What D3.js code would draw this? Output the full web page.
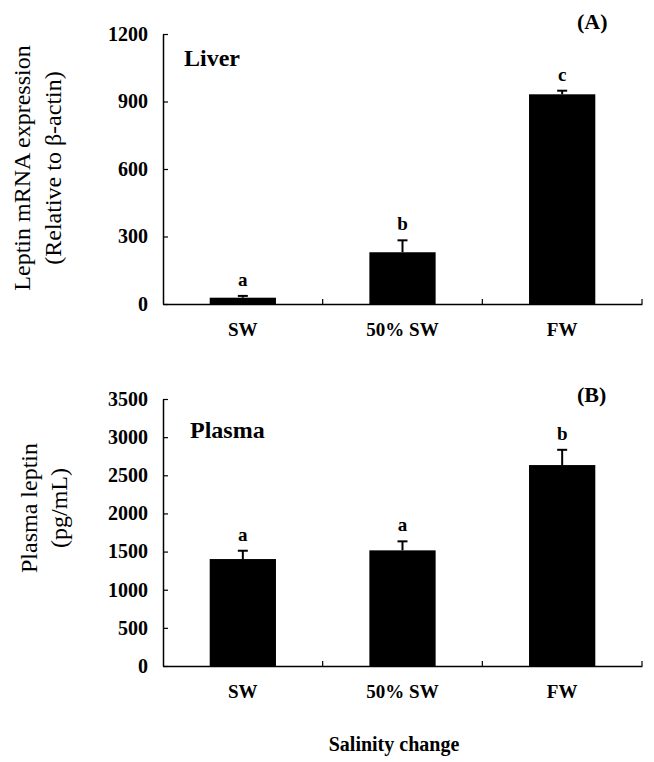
<!DOCTYPE html>
<html>
<head>
<meta charset="utf-8">
<script src="https://cdn.jsdelivr.net/npm/d3@7"></script>
<style>
  html, body { margin: 0; padding: 0; background: #fff; }
  svg { display: block; }
  text { font-family: "Liberation Serif", "Times New Roman", serif; fill: #000; }
</style>
</head>
<body>
<svg id="chart" width="654" height="762"></svg>
<script>
const categories = ["SW", "50% SW", "FW"];
const liverMean = [28, 230, 932];
const liverErr = [8, 53, 16];
const liverLetters = ["a", "b", "c"];
const liverTicks = [0, 300, 600, 900, 1200];
const plasmaMean = [1402, 1516, 2634];
const plasmaErr = [109, 118, 200];
const plasmaLetters = ["a", "a", "b"];
const plasmaTicks = [0, 500, 1000, 1500, 2000, 2500, 3000, 3500];

const svg = d3.select("#chart");
const left = 163, right = 642;

const x = d3.scaleBand().domain(categories).range([left, right])
  .paddingInner(0.585).paddingOuter(0.2925);

function panel(opts) {
  const y = d3.scaleLinear().domain([0, opts.max]).range([opts.bottom, opts.top]);
  const g = svg.append("g");

  // bars
  g.selectAll("rect.bar").data(opts.mean).join("rect")
    .attr("class", "bar")
    .attr("x", (d, i) => x(categories[i]))
    .attr("width", x.bandwidth())
    .attr("y", d => y(d))
    .attr("height", d => opts.bottom - y(d))
    .attr("fill", "#000");

  // error bars
  const cx = i => x(categories[i]) + x.bandwidth() / 2;
  g.selectAll("line.stem").data(opts.mean).join("line")
    .attr("x1", (d, i) => cx(i)).attr("x2", (d, i) => cx(i))
    .attr("y1", d => y(d)).attr("y2", (d, i) => y(d + opts.err[i]))
    .attr("stroke", "#000").attr("stroke-width", 2);
  g.selectAll("line.cap").data(opts.mean).join("line")
    .attr("x1", (d, i) => cx(i) - 5).attr("x2", (d, i) => cx(i) + 5)
    .attr("y1", (d, i) => y(d + opts.err[i])).attr("y2", (d, i) => y(d + opts.err[i]))
    .attr("stroke", "#000").attr("stroke-width", 2);

  // letters
  g.selectAll("text.letter").data(opts.letters).join("text")
    .attr("x", (d, i) => cx(i))
    .attr("y", (d, i) => y(opts.mean[i] + opts.err[i]) - 10)
    .attr("text-anchor", "middle")
    .attr("font-weight", "bold")
    .attr("font-size", 19)
    .text(d => d);

  // y axis
  const ya = g.append("g").attr("transform", `translate(${left},0)`)
    .call(d3.axisLeft(y).tickValues(opts.ticks).tickSize(-5).tickSizeOuter(0).tickPadding(15).tickFormat(d3.format("d")));
  ya.select(".domain").attr("stroke-width", 1.5);
  ya.selectAll(".tick line").attr("stroke-width", 1.2);
  ya.selectAll(".tick text")
    .attr("font-size", 20).attr("font-weight", "bold");

  // x axis
  const xa = g.append("g").attr("transform", `translate(0,${opts.bottom})`)
    .call(d3.axisBottom(x).tickSize(0).tickPadding(19));
  xa.select(".domain").attr("stroke-width", 1.5);
  xa.selectAll(".tick text")
    .attr("font-size", 19).attr("font-weight", "bold");
  // category boundary ticks (inside)
  g.selectAll("line.sep").data(categories).join("line")
    .attr("x1", d => x(d) + x.bandwidth() + x.step() * x.paddingInner() / 2)
    .attr("x2", d => x(d) + x.bandwidth() + x.step() * x.paddingInner() / 2)
    .attr("y1", opts.bottom).attr("y2", opts.bottom - 5)
    .attr("stroke", "#000").attr("stroke-width", 1.2);

  // y title
  opts.title.forEach((t, k) => {
    g.append("text")
      .attr("transform", `translate(${opts.titleX[k]},${opts.titleY}) rotate(-90)`)
      .attr("text-anchor", "middle")
      .attr("font-size", 24)
      .text(t);
  });

  // tissue label
  g.append("text").attr("x", opts.labelX).attr("y", opts.labelY)
    .attr("font-size", 24).attr("font-weight", "bold").text(opts.label);
  // panel letter
  g.append("text").attr("x", 577).attr("y", opts.panelY)
    .attr("font-size", 22).attr("font-weight", "bold").text(opts.panel);
}

panel({
  max: 1200, top: 34, bottom: 304, ticks: liverTicks,
  mean: liverMean, err: liverErr, letters: liverLetters,
  title: ["Leptin mRNA expression", "(Relative to \u03b2-actin)"],
  titleX: [30, 61], titleY: 168,
  label: "Liver", labelX: 184, labelY: 66,
  panel: "(A)", panelY: 29
});

panel({
  max: 3500, top: 399, bottom: 666, ticks: plasmaTicks,
  mean: plasmaMean, err: plasmaErr, letters: plasmaLetters,
  title: ["Plasma leptin", "(pg/mL)"],
  titleX: [37, 67], titleY: 508,
  label: "Plasma", labelX: 190, labelY: 438,
  panel: "(B)", panelY: 402
});

svg.append("text").attr("x", 394).attr("y", 751)
  .attr("text-anchor", "middle").attr("font-size", 20).attr("font-weight", "bold")
  .text("Salinity change");
</script>
</body>
</html>
